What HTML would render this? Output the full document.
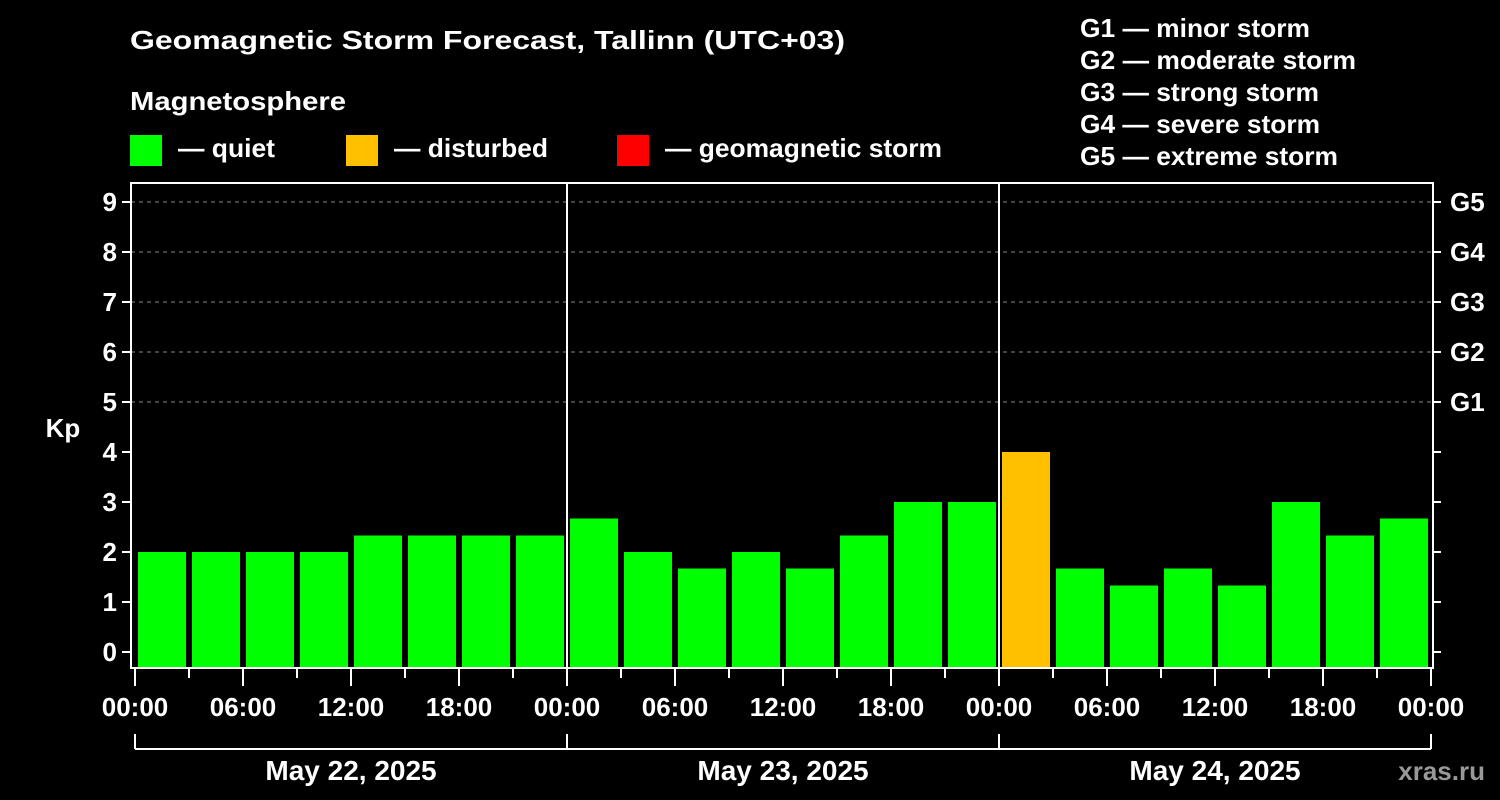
<!DOCTYPE html>
<html><head><meta charset="utf-8"><style>
html,body{margin:0;padding:0;background:#000;}
svg{display:block;font-family:"Liberation Sans",Arial,sans-serif;font-weight:bold;}
</style></head><body>
<svg id="chart" width="1500" height="800" viewBox="0 0 1500 800">
<rect width="1500" height="800" fill="#000"/>
<text x="130" y="49" fill="#fff" font-size="26" textLength="715" lengthAdjust="spacingAndGlyphs">Geomagnetic Storm Forecast, Tallinn (UTC+03)</text>
<text x="130" y="110" fill="#fff" font-size="26" textLength="216" lengthAdjust="spacingAndGlyphs">Magnetosphere</text>
<g><rect x="130" y="135" width="32" height="31" fill="#00ff00"/><text x="178" y="157" fill="#fff" font-size="26" textLength="97" lengthAdjust="spacingAndGlyphs">— quiet</text></g>
<g><rect x="346" y="135" width="32" height="31" fill="#ffc000"/><text x="394" y="157" fill="#fff" font-size="26" textLength="154" lengthAdjust="spacingAndGlyphs">— disturbed</text></g>
<g><rect x="617" y="135" width="32" height="31" fill="#ff0000"/><text x="665" y="157" fill="#fff" font-size="26" textLength="277" lengthAdjust="spacingAndGlyphs">— geomagnetic storm</text></g>
<g fill="#fff" font-size="26">
<text x="1080" y="37" textLength="230" lengthAdjust="spacingAndGlyphs">G1 — minor storm</text>
<text x="1080" y="69" textLength="276" lengthAdjust="spacingAndGlyphs">G2 — moderate storm</text>
<text x="1080" y="101" textLength="239" lengthAdjust="spacingAndGlyphs">G3 — strong storm</text>
<text x="1080" y="133" textLength="240" lengthAdjust="spacingAndGlyphs">G4 — severe storm</text>
<text x="1080" y="165" textLength="258" lengthAdjust="spacingAndGlyphs">G5 — extreme storm</text>
</g>
<text x="63" y="437" fill="#fff" font-size="26" text-anchor="middle">Kp</text>
<text x="1485" y="780" fill="#999" font-size="26" text-anchor="end">xras.ru</text>
<g id="plot"></g>
</svg>
<script>
const kpValues = [2,2,2,2,2.33,2.33,2.33,2.33, 2.67,2,1.67,2,1.67,2.33,3,3, 4,1.67,1.33,1.67,1.33,3,2.33,2.67];
const hourLabels = ["00:00","06:00","12:00","18:00","00:00","06:00","12:00","18:00","00:00","06:00","12:00","18:00","00:00"];
const dayLabels = ["May 22, 2025","May 23, 2025","May 24, 2025"];
const kpTicks = [0,1,2,3,4,5,6,7,8,9];
const gLabels = ["G1","G2","G3","G4","G5"];

const NS="http://www.w3.org/2000/svg";
const g=document.getElementById('plot');
const X0=135, PXH=18, PL=131, PR=1433, PT=183, PB=668;
function xs(h){return X0+h*PXH;}
function ys(k){return 652-50*k;}
function mk(t,a,parent){const e=document.createElementNS(NS,t);for(const k in a)e.setAttribute(k,a[k]);(parent||g).appendChild(e);return e;}
function color(v){return v>=5?'#ff0000':(v>=4?'#ffc000':'#00ff00');}

// grid
for(let k=5;k<=9;k++){
  const l=mk('line',{x1:PL,x2:PR,y1:ys(k),y2:ys(k),stroke:'#888','stroke-width':1,'stroke-dasharray':'4,4'});
  
  
}
// bars
kpValues.forEach((v,i)=>{
  const x=xs(i*3)+3;
  const r=mk('rect',{x:x,y:ys(v),width:48,height:PB-ys(v),fill:color(v)});
  
  
});
// frame
const fr=mk('rect',{x:PL,y:PT,width:PR-PL,height:PB-PT,fill:'none',stroke:'#fff','stroke-width':2});


// day separators
for(let d=1;d<dayLabels.length;d++){
  const l=mk('line',{x1:xs(d*24),x2:xs(d*24),y1:PT,y2:PB,stroke:'#fff','stroke-width':2});
  
  
}
// y ticks left
kpTicks.forEach(k=>{
  mk('line',{x1:122,x2:PL,y1:ys(k),y2:ys(k),stroke:'#fff','stroke-width':2});
  mk('line',{x1:PR,x2:PR+8,y1:ys(k),y2:ys(k),stroke:'#fff','stroke-width':2});
  const t=mk('text',{x:117,y:ys(k)+9,fill:'#fff','font-size':26,'text-anchor':'end'});
  t.textContent=k;
  
  
});
gLabels.forEach((s,i)=>{
  const t=mk('text',{x:1450,y:ys(5+i)+9,fill:'#fff','font-size':26});
  t.textContent=s;
  
  
});
// x ticks
for(let h=0;h<=72;h+=3){
  const major=h%6===0;
  mk('line',{x1:xs(h),x2:xs(h),y1:PB,y2:major?686:678,stroke:'#fff','stroke-width':2});
}
hourLabels.forEach((s,i)=>{
  const t=mk('text',{x:xs(i*6),y:716,fill:'#fff','font-size':26,'text-anchor':'middle'});
  t.textContent=s;
  
  
});
// date bracket
mk('line',{x1:xs(0),x2:xs(72),y1:749,y2:749,stroke:'#fff','stroke-width':2});
for(let d=0;d<=dayLabels.length;d++) mk('line',{x1:xs(d*24),x2:xs(d*24),y1:734,y2:749,stroke:'#fff','stroke-width':2});
dayLabels.forEach((s,i)=>{
  const t=mk('text',{x:xs(i*24+12),y:780,fill:'#fff','font-size':28,'text-anchor':'middle'});
  t.textContent=s;
  
  
});
</script>
</body></html>
